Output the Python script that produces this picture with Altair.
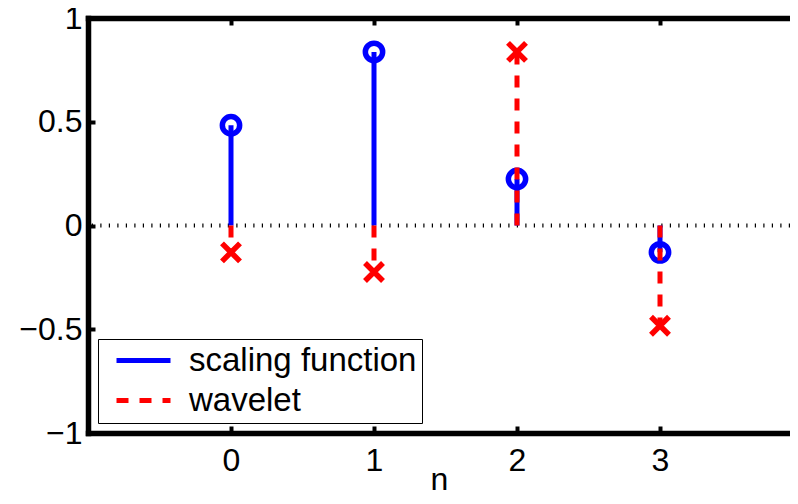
import altair as alt
import pandas as pd

# ---- data (Daubechies D4 filters) ----
n_values = [0, 1, 2, 3]
scaling_values = [0.4830, 0.8365, 0.2241, -0.1294]
wavelet_values = [-0.1294, -0.2241, 0.8365, -0.4830]
series_names = ["scaling function", "wavelet"]
x_ticks = [0, 1, 2, 3]
y_ticks = [-1, -0.5, 0, 0.5, 1]
baseline = [0]

df = pd.DataFrame({
    "n": n_values + n_values,
    "value": scaling_values + wavelet_values,
    "series": [series_names[0]] * len(n_values) + [series_names[1]] * len(n_values),
})
df_base = pd.DataFrame({"baseline": baseline})

W, H = 702, 415
FONT = "Liberation Sans"
BLUE = "#0000ff"
RED = "#ff0000"

xscale = alt.Scale(domain=[-1, -1 + W / 143.0], nice=False, zero=False)
yscale = alt.Scale(domain=[-1, 1], nice=False, zero=False)
color_scale = alt.Scale(domain=series_names, range=[BLUE, RED])
dash_scale = alt.Scale(domain=series_names, range=[[1, 0], [12, 11]])

tick_common = dict(labels=False, ticks=True, tickSize=7, tickWidth=4,
                   tickColor="black", grid=False, title=None)


def series_legend():
    return alt.Legend(title=None, labelExpr="datum.label + '  '")


base = alt.Chart(df)

zero_line = alt.Chart(df_base).mark_rule(
    color="black", strokeWidth=4, strokeDash=[1.2, 7.3]
).encode(
    y=alt.Y("baseline:Q", scale=yscale, axis=None)
)

blue_stems = base.transform_filter(
    alt.datum.series == series_names[0]
).transform_calculate(zero="0").mark_rule(strokeWidth=5).encode(
    x=alt.X("n:Q", scale=xscale, axis=alt.Axis(
        orient="bottom", values=x_ticks, ticks=False, domain=True,
        domainWidth=5.5, domainColor="black", domainCap="square",
        labelPadding=12, labelFlush=False, labelOverlap=False, grid=False,
        title="n", titleFontSize=32, titleFontWeight="normal",
        titleBaseline="alphabetic", titleY=56, titleColor="black")),
    y=alt.Y("zero:Q", scale=yscale, axis=alt.Axis(
        orient="left", values=y_ticks, format="~g", ticks=False, domain=True,
        domainWidth=5.5, domainColor="black", domainCap="square",
        labelPadding=6, labelOverlap=False, grid=False, title=None)),
    y2="value:Q",
    color=alt.Color("series:N", scale=color_scale, legend=series_legend()),
    strokeDash=alt.StrokeDash("series:N", scale=dash_scale, legend=series_legend()),
)

circles = base.transform_filter(
    alt.datum.series == series_names[0]
).mark_point(shape="circle", size=300, filled=False, color=BLUE,
             strokeWidth=5.5, opacity=1).encode(
    x=alt.X("n:Q", scale=xscale, axis=alt.Axis(
        orient="bottom", offset=-H, values=x_ticks, domain=True,
        domainWidth=5.5, domainColor="black", domainCap="square", **tick_common)),
    y=alt.Y("value:Q", scale=yscale, axis=alt.Axis(
        orient="right", offset=-W, values=y_ticks, domain=False, **tick_common)),
)

red_stems = base.transform_filter(
    alt.datum.series == series_names[1]
).transform_calculate(zero="0").mark_rule(strokeWidth=5).encode(
    x=alt.X("n:Q", scale=xscale, axis=alt.Axis(
        orient="top", offset=-H, values=x_ticks, domain=False, **tick_common)),
    y=alt.Y("zero:Q", scale=yscale, axis=None),
    y2="value:Q",
    color=alt.Color("series:N", scale=color_scale, legend=series_legend()),
    strokeDash=alt.StrokeDash("series:N", scale=dash_scale, legend=series_legend()),
)

crosses = base.transform_filter(
    alt.datum.series == series_names[1]
).mark_point(shape="M-1,-1L1,1M-1,1L1,-1", size=324, filled=False, color=RED,
             strokeWidth=5.5, opacity=1).encode(
    x=alt.X("n:Q", scale=xscale, axis=None),
    y=alt.Y("value:Q", scale=yscale, axis=None),
)

chart = alt.layer(zero_line, blue_stems, circles, red_stems, crosses).resolve_axis(
    x="independent", y="independent"
).properties(
    width=W, height=H,
    autosize=alt.AutoSizeParams(type="none"),
    padding={"left": 80, "top": 10, "right": 0, "bottom": 63},
    background="white",
).configure_view(stroke=None).configure_axis(
    labelFont=FONT, labelFontSize=32, labelColor="black",
    titleFont=FONT,
).configure_legend(
    orient="bottom-left", offset=10, padding=5,
    strokeColor="black", strokeWidth=1, fillColor="white",
    symbolType="stroke", symbolSize=2916, symbolStrokeWidth=5,
    symbolOffset=11, labelOffset=16, labelFont=FONT, labelFontSize=33,
    labelColor="black", labelLimit=500, rowPadding=6, clipHeight=33,
)

chart.save("out.html", embed_options={"renderer": "svg", "actions": False})
